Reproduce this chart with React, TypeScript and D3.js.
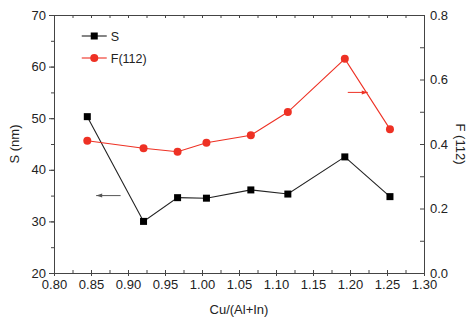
import { useEffect, useRef } from 'react'
import * as d3 from 'd3'

// Cu/(Al+In) ratio of each sample
const ratios = [0.845, 0.921, 0.967, 1.006, 1.066, 1.116, 1.193, 1.254]
// crystallite size S (nm), left axis
const sizeS = [50.3, 30.0, 34.6, 34.5, 36.1, 35.3, 42.5, 34.8]
// F(112) orientation factor, right axis
const f112 = [0.41, 0.387, 0.376, 0.404, 0.427, 0.499, 0.664, 0.446]

const xTicks = [0.8, 0.85, 0.9, 0.95, 1.0, 1.05, 1.1, 1.15, 1.2, 1.25, 1.3]
const leftTicks = [20, 30, 40, 50, 60, 70]
const rightTicks = [0, 0.2, 0.4, 0.6, 0.8]

export default function App() {
  const svgRef = useRef<SVGSVGElement>(null)

  useEffect(() => {
    if (!svgRef.current) return
    const svg = d3.select(svgRef.current)
    svg.selectAll('*').remove()

    const margin = { top: 15, right: 44, bottom: 50, left: 54 }
    const width = 468
    const height = 323
    const innerWidth = width - margin.left - margin.right
    const innerHeight = height - margin.top - margin.bottom
    const font = '"Liberation Sans", Arial, sans-serif'
    const axisColor = '#444'

    const x = d3.scaleLinear().domain([0.8, 1.3]).range([0, innerWidth])
    const yL = d3.scaleLinear().domain([20, 70]).range([innerHeight, 0])
    const yR = d3.scaleLinear().domain([0, 0.8]).range([innerHeight, 0])

    const g = svg.append('g').attr('transform', `translate(${margin.left},${margin.top})`)

    const styleAxis = (sel: d3.Selection<SVGGElement, unknown, null, undefined>) => {
      sel.select('.domain').attr('stroke', axisColor)
      sel.selectAll('.tick line').attr('stroke', axisColor)
      sel.selectAll('.tick text')
        .attr('fill', '#222')
        .attr('font-family', font)
        .attr('font-size', '13px')
    }

    const minorX = d3.range(0, 21).map(i => 0.8 + i * 0.025)

    // bottom axis: minor + major ticks inward
    g.append('g')
      .attr('transform', `translate(0,${innerHeight})`)
      .call(d3.axisTop(x).tickValues(minorX).tickSize(3).tickFormat(() => '').tickSizeOuter(0))
      .call(sel => styleAxis(sel))
    const bottom = g.append('g')
      .attr('transform', `translate(0,${innerHeight})`)
      .call(d3.axisBottom(x).tickValues(xTicks).tickSize(3).tickPadding(4).tickSizeOuter(0).tickFormat(d3.format('.2f')))
    styleAxis(bottom)
    bottom.select('.domain').remove()

    // top axis
    g.append('g')
      .call(d3.axisBottom(x).tickValues(minorX).tickSize(3).tickFormat(() => '').tickSizeOuter(0))
      .call(sel => styleAxis(sel))

    // left axis: ticks outward
    const minorL = d3.range(20, 71, 5)
    g.append('g')
      .call(d3.axisLeft(yL).tickValues(minorL).tickSize(3).tickFormat(() => '').tickSizeOuter(0))
      .call(sel => styleAxis(sel))
    const left = g.append('g')
      .call(d3.axisLeft(yL).tickValues(leftTicks).tickSize(5).tickPadding(3).tickSizeOuter(0))
    styleAxis(left)
    left.select('.domain').remove()

    // right axis: ticks inward
    const minorR = d3.range(0, 9).map(i => i * 0.1)
    g.append('g')
      .attr('transform', `translate(${innerWidth},0)`)
      .call(d3.axisLeft(yR).tickValues(minorR).tickSize(4).tickFormat(() => '').tickSizeOuter(0))
      .call(sel => styleAxis(sel))
    const right = g.append('g')
      .attr('transform', `translate(${innerWidth},0)`)
      .call(d3.axisRight(yR).tickValues(rightTicks).tickSize(0).tickPadding(6).tickSizeOuter(0).tickFormat(d3.format('.1f')))
    styleAxis(right)
    right.select('.domain').remove()

    // axis titles
    svg.append('text')
      .attr('transform', `translate(16,${margin.top + innerHeight / 2}) rotate(-90)`)
      .attr('text-anchor', 'middle')
      .attr('dominant-baseline', 'middle')
      .attr('font-family', font).attr('font-size', '13px').attr('fill', '#222')
      .text('S (nm)')
    svg.append('text')
      .attr('transform', `translate(459,${margin.top + innerHeight / 2}) rotate(90)`)
      .attr('text-anchor', 'middle')
      .attr('dominant-baseline', 'middle')
      .attr('font-family', font).attr('font-size', '13px').attr('fill', '#222')
      .text('F (112)')
    svg.append('text')
      .attr('x', margin.left + x(1.05))
      .attr('y', 314)
      .attr('text-anchor', 'middle')
      .attr('font-family', font).attr('font-size', '13px').attr('fill', '#222')
      .text('Cu/(Al+In)')

    // S series
    const lineS = d3.line<number>().x((_d, i) => x(ratios[i])).y(d => yL(d))
    g.append('path').datum(sizeS)
      .attr('fill', 'none').attr('stroke', '#222').attr('stroke-width', 1.1)
      .attr('d', lineS)
    g.selectAll('rect.s').data(sizeS).enter().append('rect')
      .attr('x', (_d, i) => x(ratios[i]) - 3.5)
      .attr('y', d => yL(d) - 3.5)
      .attr('width', 7).attr('height', 7)
      .attr('fill', '#000')

    // F(112) series
    const red = '#ee3124'
    const lineF = d3.line<number>().x((_d, i) => x(ratios[i])).y(d => yR(d))
    g.append('path').datum(f112)
      .attr('fill', 'none').attr('stroke', red).attr('stroke-width', 1.1)
      .attr('d', lineF)
    g.selectAll('circle.f').data(f112).enter().append('circle')
      .attr('cx', (_d, i) => x(ratios[i]))
      .attr('cy', d => yR(d))
      .attr('r', 4)
      .attr('fill', red)

    // arrows pointing at each axis
    const arrow = (x1: number, x2: number, y: number, color: string) => {
      g.append('line')
        .attr('x1', x1).attr('x2', x2).attr('y1', y).attr('y2', y)
        .attr('stroke', color).attr('stroke-width', 1)
      const dir = x2 > x1 ? 1 : -1
      g.append('path')
        .attr('d', `M${x2},${y}L${x2 - dir * 6},${y - 2}L${x2 - dir * 6},${y + 2}Z`)
        .attr('fill', color)
    }
    arrow(x(0.89), x(0.857), yL(35), '#555')
    arrow(x(1.197), x(1.224), yR(0.56), red)

    // legend
    const legend = g.append('g').attr('transform', `translate(${x(0.8375)},21)`)
    legend.append('line').attr('x1', 0).attr('x2', 25).attr('y1', 0).attr('y2', 0)
      .attr('stroke', '#222').attr('stroke-width', 1.1)
    legend.append('rect').attr('x', 9).attr('y', -3.5).attr('width', 7).attr('height', 7).attr('fill', '#000')
    legend.append('text').attr('x', 29).attr('y', 4.5)
      .attr('font-family', font).attr('font-size', '12.5px').attr('fill', '#222').text('S')
    legend.append('line').attr('x1', 0).attr('x2', 25).attr('y1', 22).attr('y2', 22)
      .attr('stroke', red).attr('stroke-width', 1.1)
    legend.append('circle').attr('cx', 12.5).attr('cy', 22).attr('r', 4).attr('fill', red)
    legend.append('text').attr('x', 29).attr('y', 26.5)
      .attr('font-family', font).attr('font-size', '12.5px').attr('fill', '#222').text('F(112)')
  }, [])

  return (
    <svg
      ref={svgRef}
      width={468}
      height={323}
      style={{ position: 'absolute', left: 0, top: 0, background: '#fff' }}
    />
  )
}
